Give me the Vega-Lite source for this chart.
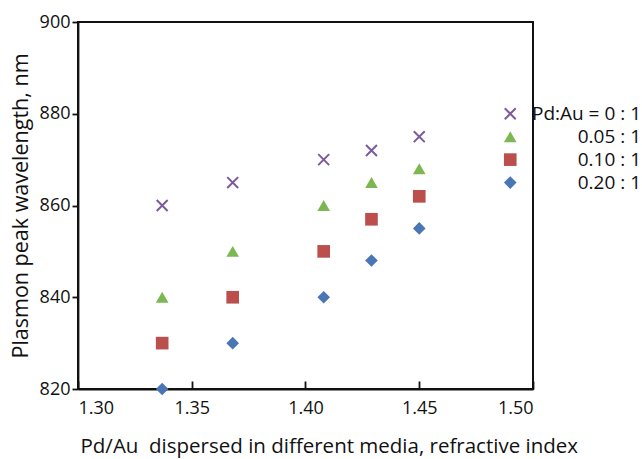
{
  "$schema": "https://vega.github.io/schema/vega-lite/v6.json",
  "width": 455,
  "height": 367,
  "autosize": "none",
  "padding": {"left": 78, "top": 22, "right": 109, "bottom": 70},
  "view": {"stroke": "#111111", "strokeWidth": 2},
  "config": {
    "view": {"stroke": "#111111", "strokeWidth": 2},
    "font": "Open Sans",
    "axis": {"labelFont": "Open Sans", "titleFont": "Open Sans", "labelFontSize": 18, "titleFontSize": 19.5, "titleFontWeight": "normal", "labelColor": "#111", "titleColor": "#111", "domainColor": "#111", "tickColor": "#111", "domainWidth": 1.8, "tickWidth": 1.8, "grid": false}
  },
  "datasets": {
    "pts": [
      {"n": 1.337, "wl": 860, "ratio": "0 : 1"},
      {"n": 1.368, "wl": 865, "ratio": "0 : 1"},
      {"n": 1.408, "wl": 870, "ratio": "0 : 1"},
      {"n": 1.429, "wl": 872, "ratio": "0 : 1"},
      {"n": 1.450, "wl": 875, "ratio": "0 : 1"},
      {"n": 1.490, "wl": 880, "ratio": "0 : 1"},
      {"n": 1.337, "wl": 840, "ratio": "0.05 : 1"},
      {"n": 1.368, "wl": 850, "ratio": "0.05 : 1"},
      {"n": 1.408, "wl": 860, "ratio": "0.05 : 1"},
      {"n": 1.429, "wl": 865, "ratio": "0.05 : 1"},
      {"n": 1.450, "wl": 868, "ratio": "0.05 : 1"},
      {"n": 1.490, "wl": 875, "ratio": "0.05 : 1"},
      {"n": 1.337, "wl": 830, "ratio": "0.10 : 1"},
      {"n": 1.368, "wl": 840, "ratio": "0.10 : 1"},
      {"n": 1.408, "wl": 850, "ratio": "0.10 : 1"},
      {"n": 1.429, "wl": 857, "ratio": "0.10 : 1"},
      {"n": 1.450, "wl": 862, "ratio": "0.10 : 1"},
      {"n": 1.490, "wl": 870, "ratio": "0.10 : 1"},
      {"n": 1.337, "wl": 820, "ratio": "0.20 : 1"},
      {"n": 1.368, "wl": 830, "ratio": "0.20 : 1"},
      {"n": 1.408, "wl": 840, "ratio": "0.20 : 1"},
      {"n": 1.429, "wl": 848, "ratio": "0.20 : 1"},
      {"n": 1.450, "wl": 855, "ratio": "0.20 : 1"},
      {"n": 1.490, "wl": 865, "ratio": "0.20 : 1"}
    ],
    "labels": [
      {"n": 1.5, "wl": 880, "label": "Pd:Au = 0 : 1"},
      {"n": 1.5, "wl": 875, "label": "0.05 : 1"},
      {"n": 1.5, "wl": 870, "label": "0.10 : 1"},
      {"n": 1.5, "wl": 865, "label": "0.20 : 1"}
    ]
  },
  "layer": [
    {
      "data": {"name": "pts"},
      "transform": [{"filter": "datum.ratio !== '0 : 1'"}],
      "mark": {"type": "point", "filled": true, "opacity": 1, "clip": false},
      "encoding": {
        "x": {"field": "n", "type": "quantitative", "scale": {"domain": [1.3, 1.5], "nice": false, "zero": false},
              "axis": {"values": [1.3, 1.35, 1.4, 1.45, 1.5], "format": ".2f", "tickSize": -8, "labelPadding": 18, "title": "Pd/Au\u00a0 dispersed in different media, refractive index", "titleFontSize": 20.5, "titleAnchor": "start", "titleAlign": "left", "titleX": 2, "titlePadding": 19}},
        "y": {"field": "wl", "type": "quantitative", "scale": {"domain": [820, 900], "nice": false, "zero": false},
              "axis": {"values": [820, 840, 860, 880, 900], "tickSize": 6, "labelPadding": 2, "title": "Plasmon peak wavelength, nm", "titleFontSize": 21.5, "titlePadding": 7}},
        "shape": {"field": "ratio", "type": "nominal", "scale": {"domain": ["0.05 : 1", "0.10 : 1", "0.20 : 1"], "range": ["triangle-up", "square", "diamond"]}, "legend": null},
        "color": {"field": "ratio", "type": "nominal", "scale": {"domain": ["0.05 : 1", "0.10 : 1", "0.20 : 1"], "range": ["#7DB752", "#BA4F4D", "#4A76B6"]}, "legend": null},
        "size": {"value": 160}
      }
    },
    {
      "data": {"name": "pts"},
      "transform": [{"filter": "datum.ratio === '0 : 1'"}],
      "mark": {"type": "point", "filled": false, "shape": "M-1,-1L1,1M-1,1L1,-1", "size": 120, "strokeWidth": 2, "color": "#7A5B9C", "opacity": 1, "clip": false},
      "encoding": {
        "x": {"field": "n", "type": "quantitative"},
        "y": {"field": "wl", "type": "quantitative"}
      }
    },
    {
      "data": {"name": "labels"},
      "mark": {"type": "text", "align": "right", "baseline": "middle", "dx": 108, "fontSize": 19, "font": "Open Sans", "color": "#111", "clip": false},
      "encoding": {
        "x": {"field": "n", "type": "quantitative"},
        "y": {"field": "wl", "type": "quantitative"},
        "text": {"field": "label"}
      }
    }
  ]
}
